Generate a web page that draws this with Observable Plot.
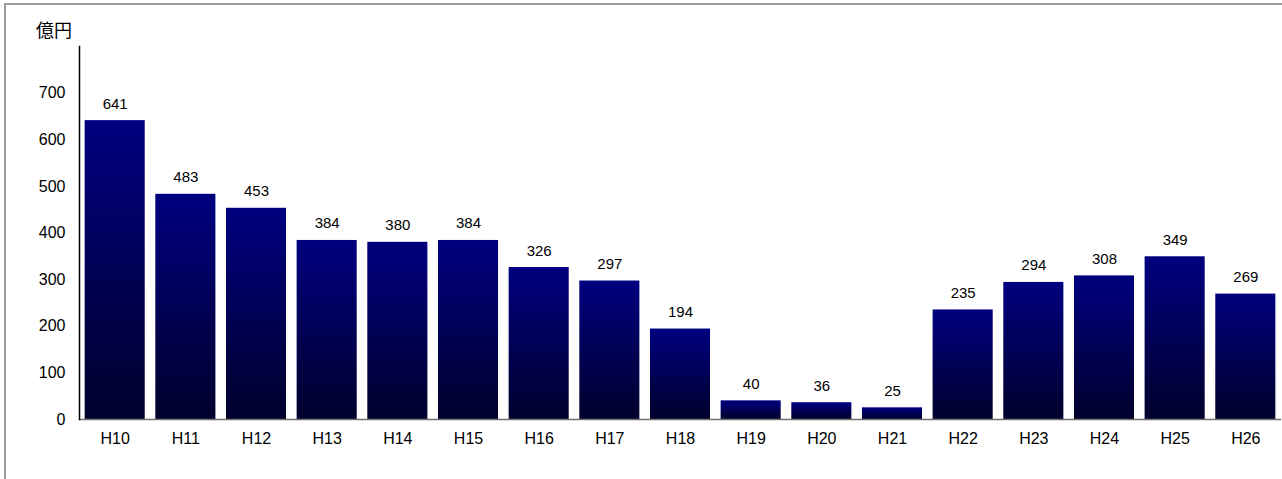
<!DOCTYPE html>
<html>
<head>
<meta charset="utf-8">
<script src="https://cdn.jsdelivr.net/npm/d3@7"></script>
<script src="https://cdn.jsdelivr.net/npm/@observablehq/plot@0.6"></script>
<style>
  html, body { margin: 0; padding: 0; background: #fff; overflow: hidden; }
  #wrap { position: relative; width: 1282px; height: 479px; }
  #frame { position: absolute; left: 4px; top: 3px; width: 1400px; height: 600px;
           border-top: 2px solid #9c9c9c; border-left: 2px solid #9c9c9c; box-sizing: border-box; }
  #unit { position: absolute; left: 36px; top: 16px; font: 18px "Noto Sans CJK JP", sans-serif; color: #000; }
  #chart { position: absolute; left: 0; top: 0; }
</style>
</head>
<body>
<div id="wrap">
  <div id="frame"></div>
  <div id="chart"></div>
  <div id="unit">億円</div>
</div>
<script>
// Fiscal years (Heisei) and amounts in 億円
const years = ["H10","H11","H12","H13","H14","H15","H16","H17","H18","H19","H20","H21","H22","H23","H24","H25","H26"];
const amounts = [641, 483, 453, 384, 380, 384, 326, 297, 194, 40, 36, 25, 235, 294, 308, 349, 269];
const yTicks = [0, 100, 200, 300, 400, 500, 600, 700];

const rows = years.map((year, i) => ({year, amount: amounts[i]}));

// Vertical navy-to-dark gradient, sized to each bar's own box
function barGradient() {
  const ns = "http://www.w3.org/2000/svg";
  const defs = document.createElementNS(ns, "defs");
  const grad = document.createElementNS(ns, "linearGradient");
  grad.setAttribute("id", "barFill");
  grad.setAttribute("x1", "0"); grad.setAttribute("y1", "0");
  grad.setAttribute("x2", "0"); grad.setAttribute("y2", "1");
  [["0%", "#000080"], ["100%", "#00002c"]].forEach(([o, c]) => {
    const s = document.createElementNS(ns, "stop");
    s.setAttribute("offset", o);
    s.setAttribute("stop-color", c);
    grad.appendChild(s);
  });
  defs.appendChild(grad);
  return defs;
}

const chart = Plot.plot({
  width: 1282,
  height: 479,
  marginLeft: 79,
  marginRight: 1,
  marginTop: 46,
  marginBottom: 60,
  style: {background: "transparent", fontFamily: "'Liberation Sans', sans-serif"},
  x: {domain: years, paddingInner: 0.15, paddingOuter: 0.08, round: false, label: null},
  y: {domain: [0, 800], label: null},
  marks: [
    barGradient,
    Plot.barY(rows, {x: "year", y: "amount", fill: "url(#barFill)"}),
    Plot.text(rows, {x: "year", y: "amount", text: d => String(d.amount), dy: -12, lineAnchor: "bottom",
      fontSize: 15, fill: "#000", style: "letter-spacing:0.6px"}),
    Plot.axisY({ticks: yTicks, tickSize: 0, tickPadding: 14, fontSize: 16, label: null,
      tickFormat: d => String(d), style: "letter-spacing:0.5px"}),
    Plot.axisX({tickSize: 0, tickPadding: 13, fontSize: 16, label: null, style: "letter-spacing:0.8px"}),
    Plot.ruleY([0], {stroke: "#707070", strokeWidth: 1.5}),
    Plot.frame({anchor: "left", stroke: "#000", strokeWidth: 1.5})
  ]
});
document.getElementById("chart").appendChild(chart);
</script>
</body>
</html>
